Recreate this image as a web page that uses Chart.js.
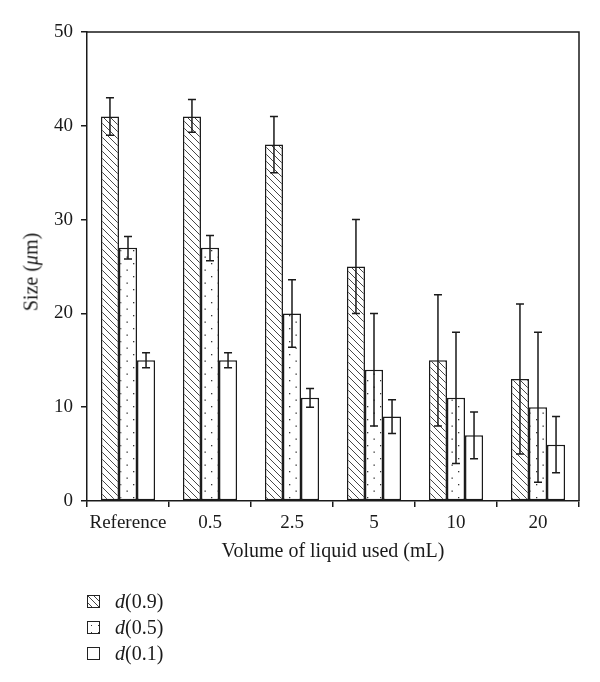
<!DOCTYPE html>
<html>
<head>
<meta charset="utf-8">
<script src="https://cdn.jsdelivr.net/npm/chart.js@4.4.0/dist/chart.umd.min.js"></script>
<style>
  body { margin: 0; background: #fff; }
  #wrap { position: relative; width: 600px; height: 682px; font-family: "Liberation Serif", "DejaVu Serif", serif; color: #1a1a1a; }
  #chart { position: absolute; left: 0; top: 0; }
  .ytitle { position: absolute; left: 31px; top: 272px; transform: translate(-50%, -50%) rotate(-90deg); font-size: 20px; white-space: nowrap; }
  .xtitle { position: absolute; left: 333px; top: 550px; transform: translate(-50%, -50%); font-size: 20px; white-space: nowrap; }
  .legend { position: absolute; left: 87px; top: 588px; font-size: 20px; }
  .legend div { height: 26px; display: flex; align-items: center; }
  .legend span.box { width: 11px; height: 11px; border: 1.5px solid #222; margin-right: 15px; display: inline-block; }
  .hatch { background: repeating-linear-gradient(45deg, #fff 0 2.5px, #444 2.5px 3.5px, #fff 3.5px 4.6px); }
  .dots { background: radial-gradient(circle, #333 0.8px, transparent 1px) 0 0 / 7px 7px, #fff; }
</style>
</head>
<body>
<div id="wrap">
  <canvas id="chart" width="600" height="682"></canvas>
  <div class="ytitle">Size (<i>μ</i>m)</div>
  <div class="xtitle">Volume of liquid used (mL)</div>
  <div class="legend">
    <div><span class="box hatch"></span><i>d</i>(0.9)</div>
    <div><span class="box dots"></span><i>d</i>(0.5)</div>
    <div><span class="box"></span><i>d</i>(0.1)</div>
  </div>
</div>
<script>
const categories = ['Reference', '0.5', '2.5', '5', '10', '20'];
const yTicks = [0, 10, 20, 30, 40, 50];

const d09 = [41, 41, 38, 25, 15, 13];
const d09Hi = [43, 42.8, 41, 30, 22, 21];
const d09Lo = [39, 39.3, 35, 20, 8, 5];

const d05 = [27, 27, 20, 14, 11, 10];
const d05Hi = [28.2, 28.3, 23.6, 20, 18, 18];
const d05Lo = [25.8, 25.6, 16.4, 8, 4, 2];

const d01 = [15, 15, 11, 9, 7, 6];
const d01Hi = [15.8, 15.8, 12, 10.8, 9.5, 9];
const d01Lo = [14.2, 14.2, 10, 7.2, 4.5, 3];

const ink = '#1a1a1a';
const font = { family: '"Liberation Serif", serif', size: 19 };

// fill patterns
function hatchPattern() {
  const c = document.createElement('canvas');
  c.width = 7; c.height = 7;
  const g = c.getContext('2d');
  g.fillStyle = '#fff';
  g.fillRect(0, 0, 7, 7);
  g.strokeStyle = '#333';
  g.lineWidth = 0.9;
  g.beginPath();
  for (let k = -7; k <= 7; k += 7) {
    g.moveTo(k, 0);
    g.lineTo(k + 7, 7);
  }
  g.stroke();
  return g.createPattern(c, 'repeat');
}

function dotPattern() {
  const c = document.createElement('canvas');
  c.width = 13; c.height = 13;
  const g = c.getContext('2d');
  g.fillStyle = '#fff';
  g.fillRect(0, 0, 13, 13);
  g.fillStyle = '#333';
  g.fillRect(3, 3, 1.3, 1.3);
  g.fillRect(9.5, 9.5, 1.3, 1.3);
  return g.createPattern(c, 'repeat');
}

const errors = [[d09Lo, d09Hi], [d05Lo, d05Hi], [d01Lo, d01Hi]];

const errorBars = {
  id: 'errorBars',
  afterDatasetsDraw(chart) {
    const ctx = chart.ctx;
    const y = chart.scales.y;
    ctx.save();
    ctx.strokeStyle = ink;
    ctx.lineWidth = 1.5;
    chart.data.datasets.forEach((ds, i) => {
      const meta = chart.getDatasetMeta(i);
      meta.data.forEach((bar, j) => {
        const lo = y.getPixelForValue(errors[i][0][j]);
        const hi = y.getPixelForValue(errors[i][1][j]);
        const x = bar.x;
        ctx.beginPath();
        ctx.moveTo(x, lo); ctx.lineTo(x, hi);
        ctx.moveTo(x - 4, lo); ctx.lineTo(x + 4, lo);
        ctx.moveTo(x - 4, hi); ctx.lineTo(x + 4, hi);
        ctx.stroke();
      });
    });
    ctx.restore();
  }
};

const frame = {
  id: 'frame',
  afterDraw(chart) {
    const a = chart.chartArea;
    const ctx = chart.ctx;
    ctx.save();
    ctx.strokeStyle = ink;
    ctx.lineWidth = 1.5;
    ctx.beginPath();
    ctx.moveTo(a.left, a.top);
    ctx.lineTo(a.right, a.top);
    ctx.lineTo(a.right, a.bottom);
    ctx.stroke();
    ctx.restore();
  }
};

const barStyle = { borderColor: ink, borderWidth: 1.5, borderSkipped: false, barPercentage: 1, categoryPercentage: 0.66 };

new Chart(document.getElementById('chart'), {
  type: 'bar',
  data: {
    labels: categories,
    datasets: [
      { label: 'd(0.9)', data: d09, backgroundColor: hatchPattern(), ...barStyle },
      { label: 'd(0.5)', data: d05, backgroundColor: dotPattern(), ...barStyle },
      { label: 'd(0.1)', data: d01, backgroundColor: '#fff', ...barStyle }
    ]
  },
  options: {
    responsive: false,
    animation: false,
    layout: { padding: { top: 32, right: 21, left: 0, bottom: 0 } },
    plugins: { legend: { display: false }, tooltip: { enabled: false } },
    scales: {
      x: {
        afterFit: s => { s.height = 181; },
        grid: { drawOnChartArea: false, tickLength: 6, color: ink, lineWidth: 1.5, offset: true },
        border: { color: ink, width: 1.5 },
        ticks: { color: ink, padding: 5, font: font, maxRotation: 0 }
      },
      y: {
        min: 0,
        max: 50,
        afterFit: s => { s.width = 87; },
        afterBuildTicks: s => { s.ticks = yTicks.map(v => ({ value: v })); },
        grid: { drawOnChartArea: false, tickLength: 6, color: ink, lineWidth: 1.5 },
        border: { color: ink, width: 1.5 },
        ticks: { color: ink, padding: 8, font: font }
      }
    }
  },
  plugins: [errorBars, frame]
});
</script>
</body>
</html>
